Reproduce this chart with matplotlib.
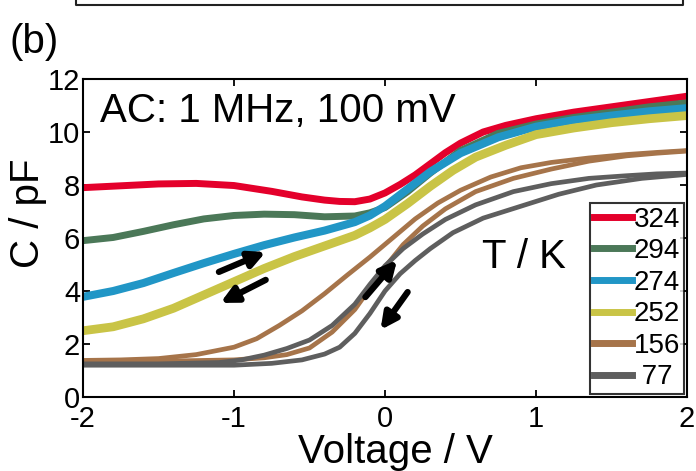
import matplotlib
matplotlib.use("Agg")
import matplotlib.pyplot as plt
from matplotlib.lines import Line2D

plt.rcParams['font.family'] = ['Liberation Sans', 'DejaVu Sans']
plt.rcParams['axes.unicode_minus'] = False

# ---- data ----
temps = ['324', '294', '274', '252', '156', ' 77']
colors = ['#e4002b', '#4b7858', '#2196c6', '#c9c446', '#a6744a', '#5e5e5e']

v_324 = [-2, -1.75, -1.5, -1.25, -1.0, -0.75, -0.55, -0.4, -0.3, -0.2, -0.1, 0, 0.1, 0.2, 0.3, 0.4, 0.5, 0.65, 0.8, 1.0, 1.25, 1.5, 1.75, 2]
c_324 = [7.9, 7.97, 8.04, 8.06, 7.98, 7.76, 7.55, 7.43, 7.38, 7.37, 7.47, 7.7, 8.02, 8.38, 8.8, 9.22, 9.58, 10.0, 10.25, 10.5, 10.75, 10.95, 11.15, 11.35]

v_294 = [-2, -1.8, -1.6, -1.4, -1.2, -1.0, -0.8, -0.6, -0.4, -0.2, -0.1, 0, 0.15, 0.3, 0.5, 0.75, 1.0, 1.25, 1.5, 1.75, 2]
c_294 = [5.9, 6.02, 6.25, 6.5, 6.72, 6.85, 6.9, 6.88, 6.8, 6.83, 6.95, 7.15, 7.75, 8.45, 9.3, 9.95, 10.3, 10.55, 10.75, 10.95, 11.1]

v_274 = [-2, -1.8, -1.6, -1.4, -1.2, -1.0, -0.8, -0.6, -0.4, -0.2, -0.1, 0, 0.15, 0.3, 0.5, 0.75, 1.0, 1.25, 1.5, 1.75, 2]
c_274 = [3.78, 4.0, 4.3, 4.68, 5.05, 5.4, 5.73, 6.02, 6.28, 6.6, 6.85, 7.2, 7.85, 8.5, 9.2, 9.8, 10.2, 10.45, 10.62, 10.78, 10.9]

v_252 = [-2, -1.8, -1.6, -1.4, -1.2, -1.0, -0.8, -0.6, -0.4, -0.2, -0.1, 0, 0.15, 0.3, 0.45, 0.6, 0.8, 1.0, 1.25, 1.5, 1.75, 2]
c_252 = [2.5, 2.65, 2.95, 3.35, 3.85, 4.35, 4.85, 5.3, 5.7, 6.1, 6.38, 6.7, 7.3, 7.95, 8.55, 9.05, 9.5, 9.9, 10.15, 10.35, 10.5, 10.62]

# 156 K and 77 K: two sweep branches each
v_156_a = [-2, -1.75, -1.5, -1.25, -1.0, -0.85, -0.7, -0.55, -0.4, -0.25, -0.1, 0.05, 0.2, 0.35, 0.5, 0.7, 0.9, 1.1, 1.35, 1.6, 1.8, 2]
c_156_a = [1.38, 1.4, 1.45, 1.6, 1.88, 2.2, 2.7, 3.25, 3.9, 4.6, 5.28, 6.0, 6.72, 7.32, 7.8, 8.3, 8.65, 8.85, 9.02, 9.15, 9.23, 9.3]
v_156_b = [-2, -1.5, -1.0, -0.8, -0.65, -0.5, -0.35, -0.2, -0.1, 0.0, 0.12, 0.25, 0.4, 0.6, 0.85, 1.1, 1.35, 1.6, 1.8, 2]
c_156_b = [1.33, 1.35, 1.4, 1.48, 1.6, 1.85, 2.45, 3.3, 4.1, 4.9, 5.75, 6.45, 7.1, 7.75, 8.25, 8.6, 8.9, 9.1, 9.2, 9.28]

v_77_a = [-2, -1.5, -1.1, -0.95, -0.8, -0.65, -0.5, -0.35, -0.2, -0.1, 0.0, 0.12, 0.25, 0.4, 0.6, 0.85, 1.1, 1.35, 1.6, 1.8, 2]
c_77_a = [1.25, 1.25, 1.3, 1.4, 1.58, 1.83, 2.15, 2.7, 3.5, 4.25, 4.95, 5.6, 6.15, 6.7, 7.25, 7.75, 8.05, 8.25, 8.35, 8.42, 8.45]
v_77_b = [-2, -1.5, -1.0, -0.75, -0.55, -0.4, -0.3, -0.2, -0.1, 0.0, 0.1, 0.2, 0.3, 0.45, 0.65, 0.9, 1.15, 1.4, 1.7, 2]
c_77_b = [1.2, 1.2, 1.2, 1.27, 1.4, 1.62, 1.88, 2.4, 3.15, 4.0, 4.65, 5.15, 5.6, 6.2, 6.75, 7.2, 7.65, 8.0, 8.25, 8.4]

# sweep direction arrows: (tail V, tail C, head V, head C)
arrows = [(-1.10, 4.72, -0.79, 5.47),
          (-0.79, 4.42, -1.09, 3.55),
          (-0.13, 3.77, 0.08, 5.17),
          (0.15, 3.96, -0.03, 2.53)]

fig = plt.figure(figsize=(6.96, 4.71), dpi=100)
ax = fig.add_axes([83/696, 1 - 397/471, 604/696, 318/471])

style = dict(solid_capstyle='butt', solid_joinstyle='round')
ax.plot(v_324, c_324, color=colors[0], lw=5.0, **style)
ax.plot(v_294, c_294, color=colors[1], lw=5.0, **style)
ax.plot(v_274, c_274, color=colors[2], lw=5.8, **style)
ax.plot(v_252, c_252, color=colors[3], lw=6.3, **style)
ax.plot(v_156_a, c_156_a, color=colors[4], lw=3.4, **style)
ax.plot(v_156_b, c_156_b, color=colors[4], lw=3.4, **style)
ax.plot(v_77_a, c_77_a, color=colors[5], lw=3.4, **style)
ax.plot(v_77_b, c_77_b, color=colors[5], lw=3.4, **style)

for x0, y0, x1, y1 in arrows:
    ax.annotate('', xy=(x1, y1), xytext=(x0, y0),
                arrowprops=dict(arrowstyle='-|>', color='black', lw=4.5,
                                mutation_scale=24, shrinkA=0, shrinkB=0))

ax.set_xlim(-2, 2)
ax.set_ylim(0, 12)
ax.set_xticks([-2, -1, 0, 1, 2])
ax.set_yticks([0, 2, 4, 6, 8, 10, 12])
ax.tick_params(direction='in', top=True, right=True, length=5, width=1.3,
               labelsize=21)
ax.tick_params(axis='y', pad=2)
ax.tick_params(axis='x', pad=6)
for s in ax.spines.values():
    s.set_linewidth(1.5)

ax.set_xlabel('Voltage / V', fontsize=29)
ax.set_ylabel('C / pF', fontsize=29)
ax.xaxis.set_label_coords(0.517, -0.112)
ax.yaxis.set_label_coords(-0.06, 0.579)

ax.text(0.028, 0.865, 'AC: 1 MHz, 100 mV', transform=ax.transAxes,
        fontsize=29, va='baseline')
ax.text(0.661, 0.406, 'T / K', transform=ax.transAxes,
        fontsize=29, va='baseline')

handles = [Line2D([], [], color=c, lw=5) for c in colors]
leg = ax.legend(handles, temps, loc='lower right', fontsize=20,
                frameon=True, fancybox=False, edgecolor='black',
                handlelength=1.37, handletextpad=0.08, labelspacing=0.2,
                borderpad=0.12, borderaxespad=0.12)
leg.get_frame().set_linewidth(1.5)

fig.text(10/696, 1 - 42/471, '(b)', fontsize=29, va='center', ha='left')

# bottom edge of the panel above
fig.add_artist(Line2D([76/696, 76/696, 683/696, 683/696],
                      [1.0, 1 - 5/471, 1 - 5/471, 1.0],
                      transform=fig.transFigure, color='#222222', lw=1.5))

fig.savefig('out.png', dpi=100)
